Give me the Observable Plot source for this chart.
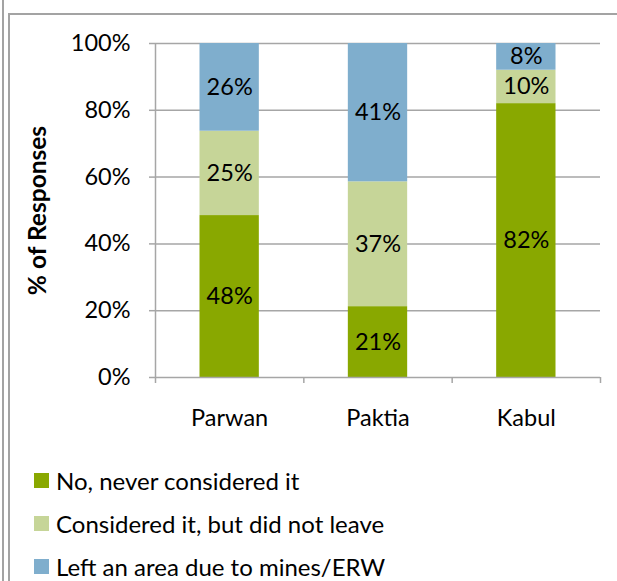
<!DOCTYPE html>
<html>
<head>
<meta charset="utf-8">
<script src="https://cdn.jsdelivr.net/npm/d3@7"></script>
<script src="https://cdn.jsdelivr.net/npm/@observablehq/plot@0.6"></script>
<style>
  html, body { margin: 0; padding: 0; background: #fff; }
  #wrap { position: relative; width: 617px; height: 581px; overflow: hidden; font-family: Lato, sans-serif; }
  .frame { position: absolute; background: #a3a3a3; }
  #chart { position: absolute; left: 0; top: 0; }
  #legend { position: absolute; left: 34px; top: 459px; font-size: 24px; color: #000; }
  .item { display: flex; align-items: center; height: 43px; }
  .sw { width: 15px; height: 15px; margin-right: 7px; }
</style>
</head>
<body>
<div id="wrap">
  <div class="frame" style="left:2px;top:0;width:1.5px;height:581px"></div>
  <div class="frame" style="left:8px;top:13px;width:1.5px;height:568px"></div>
  <div class="frame" style="left:8px;top:13px;width:609px;height:1.5px"></div>
  <div id="chart"></div>
  <div id="legend"></div>
</div>
<script>
const categories = ["Parwan", "Paktia", "Kabul"];
const seriesNames = ["No, never considered it", "Considered it, but did not leave", "Left an area due to mines/ERW"];
const neverConsidered = [48, 21, 82];
const consideredNotLeft = [25, 37, 10];
const leftArea = [26, 41, 8];
const seriesColors = ["#89A800", "#C6D598", "#7FAECD"];
const yTicks = [0, 20, 40, 60, 80, 100];

const seriesValues = [neverConsidered, consideredNotLeft, leftArea];
const rows = [];
categories.forEach((cat, i) => {
  const total = seriesValues.reduce((s, arr) => s + arr[i], 0);
  let acc = 0;
  seriesValues.forEach((arr, k) => {
    const v = arr[i];
    const y1 = acc / total * 100;
    acc += v;
    const y2 = acc / total * 100;
    rows.push({category: cat, index: i, series: seriesNames[k], value: v, y1, y2});
  });
});

const FS = 23.5;
const chart = Plot.plot({
  width: 617,
  height: 440,
  marginLeft: 155,
  marginRight: 17,
  marginTop: 43,
  marginBottom: 63,
  style: {fontFamily: "Lato, sans-serif", fontSize: FS + "px", color: "#000", background: "transparent"},
  x: {domain: [0, categories.length]},
  y: {domain: [0, 100]},
  color: {domain: seriesNames, range: seriesColors},
  marks: [
    Plot.ruleY(yTicks.filter(d => d > 0), {stroke: "#a6a6a6", strokeWidth: 1.5}),
    Plot.rectY(rows, {x1: d => d.index + 0.3, x2: d => d.index + 0.7, y1: "y1", y2: "y2", fill: "series"}),
    Plot.text(rows, {x: d => d.index + 0.5, y: d => (d.y1 + d.y2) / 2, text: d => d.value + "%", fill: "#000", fontSize: FS}),
    Plot.ruleY([0], {stroke: "#a6a6a6", strokeWidth: 1.5}),
    Plot.ruleX([0], {y1: 0, y2: 100, stroke: "#a6a6a6", strokeWidth: 1.5}),
    Plot.axisY({ticks: yTicks, tickFormat: d => d + "%", tickSize: 6, tickPadding: 19, stroke: "#a6a6a6", strokeWidth: 1.5, fontSize: FS, label: null}),
    Plot.axisX({ticks: [0, 1, 2, 3], tickFormat: () => "", tickSize: 6, stroke: "#a6a6a6", strokeWidth: 1.5, label: null}),
    Plot.axisX({ticks: categories.map((c, i) => i + 0.5), tickFormat: d => categories[Math.floor(d)], tickSize: 0, tickPadding: 32, fontSize: FS, label: null}),
    Plot.text(["% of Responses"], {frameAnchor: "left", textAnchor: "middle", dx: -117, rotate: -90, text: d => d, fontWeight: "bold", fontSize: 24.5, fill: "#000"})
  ]
});
document.getElementById("chart").appendChild(chart);

const legend = document.getElementById("legend");
seriesNames.forEach((name, k) => {
  const item = document.createElement("div");
  item.className = "item";
  const sw = document.createElement("div");
  sw.className = "sw";
  sw.style.background = seriesColors[k];
  const label = document.createElement("span");
  label.textContent = name;
  item.appendChild(sw);
  item.appendChild(label);
  legend.appendChild(item);
});
</script>
</body>
</html>
